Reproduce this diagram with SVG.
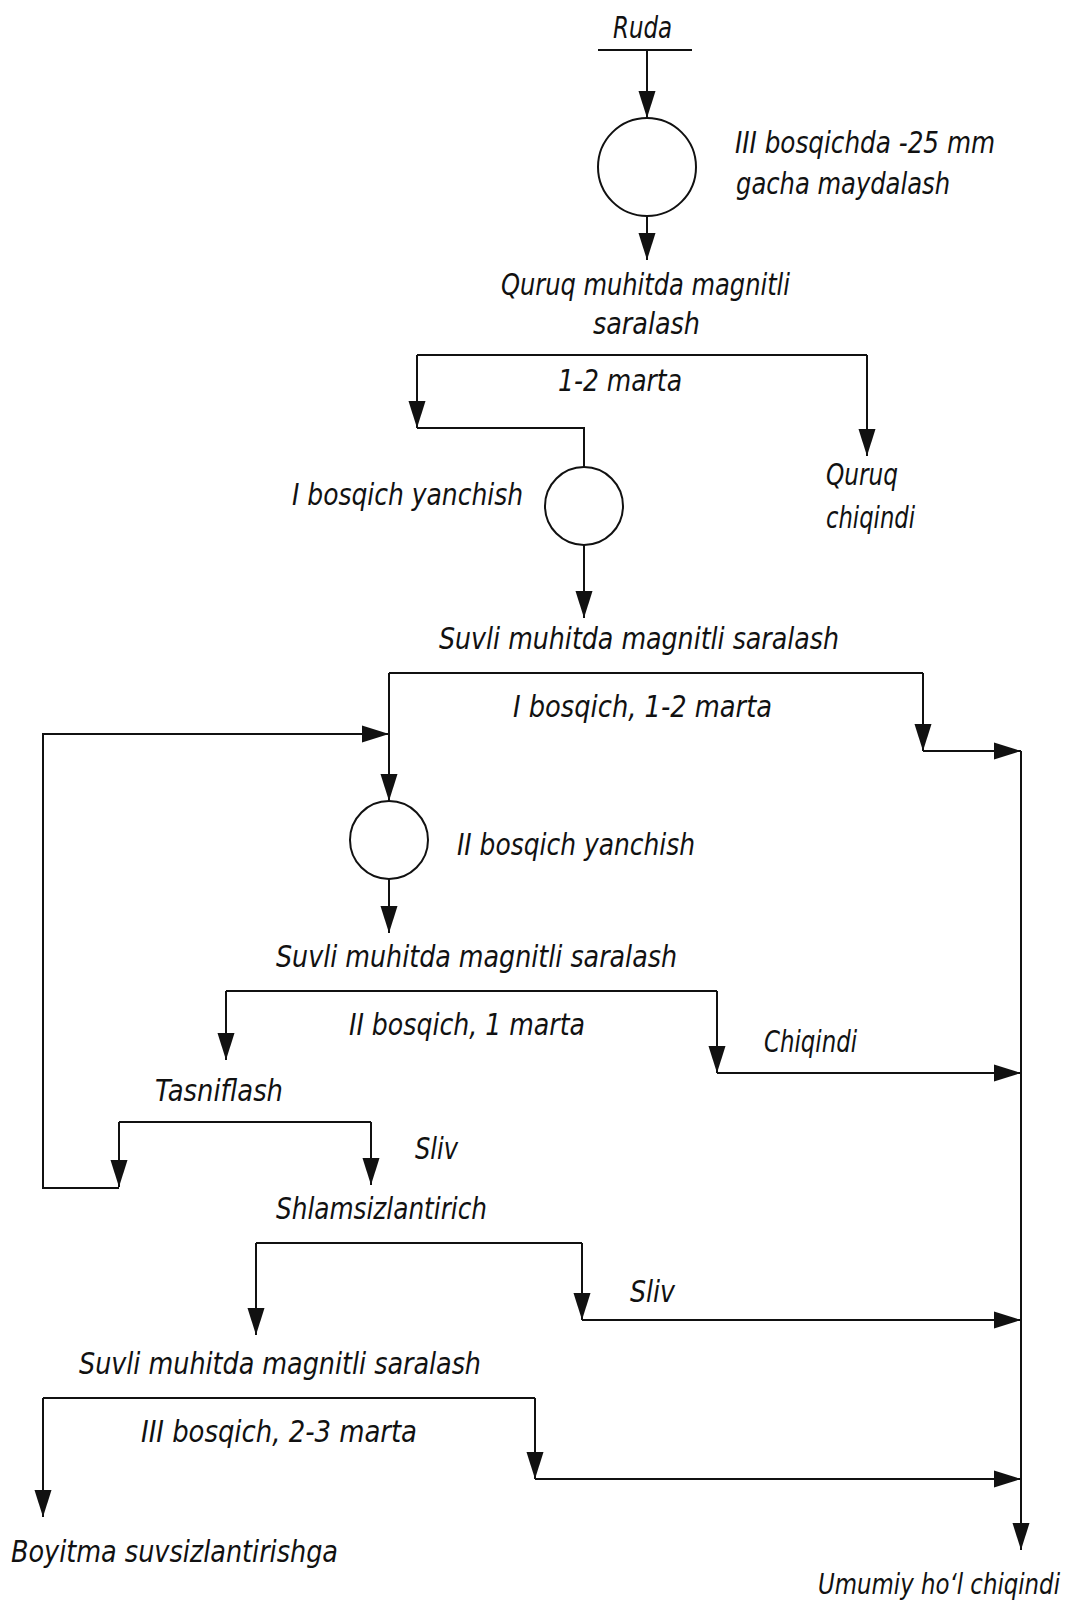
<svg xmlns="http://www.w3.org/2000/svg" width="1086" height="1613" viewBox="0 0 1086 1613">
<style>
text{font-family:"Liberation Sans Narrow","DejaVu Sans Condensed","DejaVu Sans",sans-serif;font-style:italic;font-size:30px;fill:#111}
.ln{fill:none;stroke:#111;stroke-width:2}
.ar{fill:none;stroke:#111;stroke-width:2;marker-end:url(#ah)}
.op{fill:#fff;stroke:#111;stroke-width:2}
</style>
<defs>
<marker id="ah" markerUnits="userSpaceOnUse" markerWidth="28" markerHeight="18" viewBox="0 0 28 18" refX="27" refY="9" orient="auto">
<path d="M0,0.5 L27,9 L0,17.5 z" fill="#111"/>
</marker>
</defs>
<rect width="1086" height="1613" fill="#fff"/>
<g id="connectors">
<line class="ln" x1="598" y1="50" x2="692" y2="50"/>
<line class="ar" x1="647" y1="50" x2="647" y2="118"/>
<line class="ar" x1="647" y1="216" x2="647" y2="260"/>
<line class="ln" x1="417" y1="355" x2="867" y2="355"/>
<line class="ar" x1="417" y1="355" x2="417" y2="428"/>
<polyline class="ln" points="417,428 584,428 584,467"/>
<line class="ar" x1="867" y1="355" x2="867" y2="456"/>
<line class="ar" x1="584" y1="545" x2="584" y2="618"/>
<line class="ln" x1="389" y1="673" x2="923" y2="673"/>
<line class="ar" x1="389" y1="673" x2="389" y2="801"/>
<line class="ar" x1="923" y1="673" x2="923" y2="751"/>
<line class="ar" x1="923" y1="751" x2="1021" y2="751"/>
<line class="ar" x1="1021" y1="751" x2="1021" y2="1550"/>
<polyline class="ar" points="119,1188 43,1188 43,734 389,734"/>
<line class="ar" x1="389" y1="879" x2="389" y2="933"/>
<line class="ln" x1="226" y1="991" x2="717" y2="991"/>
<line class="ar" x1="226" y1="991" x2="226" y2="1060"/>
<line class="ar" x1="717" y1="991" x2="717" y2="1073"/>
<line class="ar" x1="717" y1="1073" x2="1021" y2="1073"/>
<line class="ln" x1="119" y1="1122" x2="371" y2="1122"/>
<line class="ar" x1="119" y1="1122" x2="119" y2="1187"/>
<line class="ar" x1="371" y1="1122" x2="371" y2="1185"/>
<line class="ln" x1="256" y1="1243" x2="582" y2="1243"/>
<line class="ar" x1="256" y1="1243" x2="256" y2="1335"/>
<line class="ar" x1="582" y1="1243" x2="582" y2="1320"/>
<line class="ar" x1="582" y1="1320" x2="1021" y2="1320"/>
<line class="ln" x1="43" y1="1398" x2="535" y2="1398"/>
<line class="ar" x1="43" y1="1398" x2="43" y2="1517"/>
<line class="ar" x1="535" y1="1398" x2="535" y2="1479"/>
<line class="ar" x1="535" y1="1479" x2="1021" y2="1479"/>
</g>
<g id="ruda"><text x="613" y="38" textLength="59" lengthAdjust="spacingAndGlyphs">Ruda</text></g>
<g id="maydalash">
<circle class="op" cx="647" cy="167" r="49"/>
<text x="735" y="153" textLength="260" lengthAdjust="spacingAndGlyphs">III bosqichda -25 mm</text>
<text x="736" y="194" textLength="214" lengthAdjust="spacingAndGlyphs">gacha maydalash</text>
</g>
<g id="quruq-saralash">
<text x="501" y="295" textLength="289" lengthAdjust="spacingAndGlyphs">Quruq muhitda magnitli</text>
<text x="593" y="334" textLength="107" lengthAdjust="spacingAndGlyphs">saralash</text>
<text x="558" y="391" textLength="124" lengthAdjust="spacingAndGlyphs">1-2 marta</text>
</g>
<g id="quruq-chiqindi">
<text x="826" y="485" textLength="72" lengthAdjust="spacingAndGlyphs">Quruq</text>
<text x="826" y="528" textLength="89" lengthAdjust="spacingAndGlyphs">chiqindi</text>
</g>
<g id="yanchish-1">
<circle class="op" cx="584" cy="506" r="39"/>
<text x="292" y="505" textLength="231" lengthAdjust="spacingAndGlyphs">I bosqich yanchish</text>
</g>
<g id="suvli-saralash-1">
<text x="439" y="649" textLength="400" lengthAdjust="spacingAndGlyphs">Suvli muhitda magnitli saralash</text>
<text x="513" y="717" textLength="259" lengthAdjust="spacingAndGlyphs">I bosqich, 1-2 marta</text>
</g>
<g id="yanchish-2">
<circle class="op" cx="389" cy="840" r="39"/>
<text x="457" y="855" textLength="238" lengthAdjust="spacingAndGlyphs">II bosqich yanchish</text>
</g>
<g id="suvli-saralash-2">
<text x="276" y="967" textLength="401" lengthAdjust="spacingAndGlyphs">Suvli muhitda magnitli saralash</text>
<text x="349" y="1035" textLength="236" lengthAdjust="spacingAndGlyphs">II bosqich, 1 marta</text>
</g>
<g id="chiqindi"><text x="764" y="1052" textLength="93" lengthAdjust="spacingAndGlyphs">Chiqindi</text></g>
<g id="tasniflash"><text x="155" y="1101" textLength="128" lengthAdjust="spacingAndGlyphs">Tasniflash</text></g>
<g id="sliv-1"><text x="415" y="1159" textLength="43" lengthAdjust="spacingAndGlyphs">Sliv</text></g>
<g id="shlamsizlantirich"><text x="276" y="1219" textLength="211" lengthAdjust="spacingAndGlyphs">Shlamsizlantirich</text></g>
<g id="sliv-2"><text x="630" y="1302" textLength="45" lengthAdjust="spacingAndGlyphs">Sliv</text></g>
<g id="suvli-saralash-3">
<text x="79" y="1374" textLength="402" lengthAdjust="spacingAndGlyphs">Suvli muhitda magnitli saralash</text>
<text x="141" y="1442" textLength="276" lengthAdjust="spacingAndGlyphs">III bosqich, 2-3 marta</text>
</g>
<g id="boyitma"><text x="11" y="1562" textLength="327" lengthAdjust="spacingAndGlyphs">Boyitma suvsizlantirishga</text></g>
<g id="umumiy-chiqindi"><text x="1060" y="1594" text-anchor="end" style="font-size:28px" textLength="242" lengthAdjust="spacingAndGlyphs">Umumiy ho‘l chiqindi</text></g>
</svg>
